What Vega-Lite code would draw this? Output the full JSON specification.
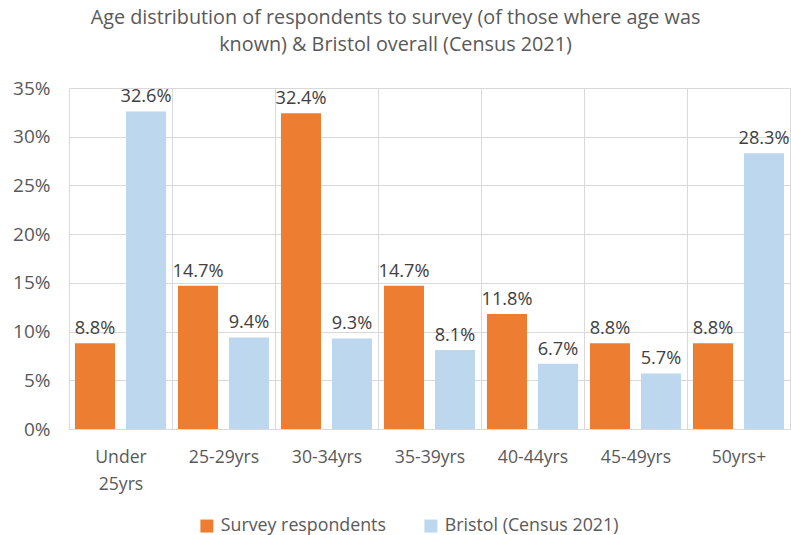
{
  "$schema": "https://vega.github.io/schema/vega-lite/v6.json",
  "width": 721,
  "height": 341,
  "autosize": "none",
  "padding": {"left": 69, "top": 88, "right": 1, "bottom": 106},
  "background": "white",
  "title": {
    "text": ["Age distribution of respondents to survey (of those where age was", "known) & Bristol overall (Census 2021)"],
    "font": "Open Sans",
    "fontSize": 19.8,
    "fontWeight": "normal",
    "color": "#595959",
    "anchor": "middle",
    "dx": -34,
    "offset": 24,
    "lineHeight": 27
  },
  "config": {
    "view": {"stroke": null},
    "font": "Open Sans",
    "axis": {"labelFont": "Open Sans", "labelColor": "#595959", "gridColor": "#D9D9D9", "gridWidth": 1},
    "legend": {"labelFont": "Open Sans", "labelFontSize": 17.8, "labelColor": "#595959", "labelLimit": 400}
  },
  "data": {
    "values": [
      {"age": "Under 25yrs", "series": "Survey respondents", "value": 0.088},
      {"age": "Under 25yrs", "series": "Bristol (Census 2021)", "value": 0.326},
      {"age": "25-29yrs", "series": "Survey respondents", "value": 0.147},
      {"age": "25-29yrs", "series": "Bristol (Census 2021)", "value": 0.094},
      {"age": "30-34yrs", "series": "Survey respondents", "value": 0.324},
      {"age": "30-34yrs", "series": "Bristol (Census 2021)", "value": 0.093},
      {"age": "35-39yrs", "series": "Survey respondents", "value": 0.147},
      {"age": "35-39yrs", "series": "Bristol (Census 2021)", "value": 0.081},
      {"age": "40-44yrs", "series": "Survey respondents", "value": 0.118},
      {"age": "40-44yrs", "series": "Bristol (Census 2021)", "value": 0.067},
      {"age": "45-49yrs", "series": "Survey respondents", "value": 0.088},
      {"age": "45-49yrs", "series": "Bristol (Census 2021)", "value": 0.057},
      {"age": "50yrs+", "series": "Survey respondents", "value": 0.088},
      {"age": "50yrs+", "series": "Bristol (Census 2021)", "value": 0.283}
    ]
  },
  "encoding": {
    "x": {
      "field": "age",
      "type": "nominal",
      "sort": null,
      "scale": {"paddingInner": 0, "paddingOuter": 0},
      "axis": {
        "title": null,
        "labelAngle": 0,
        "labelFontSize": 17.6,
        "tickBand": "extent",
        "grid": true,
        "ticks": false,
        "domain": true,
        "domainColor": "#D9D9D9",
        "labelPadding": 19,
        "labelExpr": "datum.label == 'Under 25yrs' ? ['Under', '25yrs'] : datum.label",
        "labelLineHeight": 27
      }
    },
    "xOffset": {
      "field": "series",
      "type": "nominal",
      "sort": ["Survey respondents", "Bristol (Census 2021)"],
      "scale": {"paddingInner": 0.215, "paddingOuter": 0.117}
    },
    "y": {
      "field": "value",
      "type": "quantitative",
      "scale": {"domain": [0, 0.35], "nice": false},
      "axis": {
        "title": null,
        "format": ".0%",
        "labelFontSize": 19,
        "values": [0, 0.05, 0.1, 0.15, 0.2, 0.25, 0.3, 0.35],
        "ticks": false,
        "domain": false,
        "labelPadding": 19
      }
    }
  },
  "layer": [
    {
      "mark": {"type": "bar"},
      "encoding": {
        "color": {
          "field": "series",
          "type": "nominal",
          "sort": ["Survey respondents", "Bristol (Census 2021)"],
          "scale": {"domain": ["Survey respondents", "Bristol (Census 2021)"], "range": ["#ED7D31", "#BDD7EE"]},
          "legend": {
            "title": null,
            "orient": "none",
            "direction": "horizontal",
            "legendX": 129,
            "legendY": 429,
            "symbolType": "square",
            "symbolSize": 169,
            "symbolStrokeWidth": 0,
            "columnPadding": 36,
            "labelOffset": 5
          }
        }
      }
    },
    {
      "mark": {"type": "text", "baseline": "bottom", "dy": -5, "fontSize": 18.2, "color": "#404040", "font": "Open Sans"},
      "encoding": {
        "text": {"field": "value", "type": "quantitative", "format": ".1%"}
      }
    }
  ]
}
